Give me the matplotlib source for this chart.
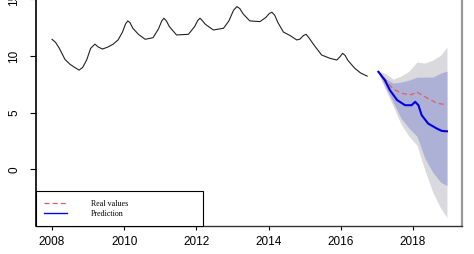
import matplotlib
matplotlib.use("Agg")
import matplotlib.pyplot as plt
from matplotlib.lines import Line2D

hist_years = [2008.0, 2008.1, 2008.2, 2008.36, 2008.5, 2008.65, 2008.75, 2008.85, 2008.96,
              2009.07, 2009.19, 2009.28, 2009.4, 2009.55, 2009.69, 2009.83, 2009.95, 2010.04,
              2010.1, 2010.16, 2010.24, 2010.4, 2010.58, 2010.8, 2010.95, 2011.04, 2011.1,
              2011.17, 2011.25, 2011.45, 2011.78, 2011.95, 2012.04, 2012.1, 2012.17, 2012.25,
              2012.47, 2012.75, 2012.9, 2013.03, 2013.12, 2013.2, 2013.3, 2013.48, 2013.76,
              2013.92, 2014.02, 2014.09, 2014.17, 2014.25, 2014.41, 2014.6, 2014.78, 2014.87,
              2014.96, 2015.04, 2015.12, 2015.25, 2015.47, 2015.7, 2015.89, 2015.98, 2016.05,
              2016.12, 2016.2, 2016.39, 2016.55, 2016.73]
hist_values = [11.48, 11.2, 10.7, 9.7, 9.27, 8.95, 8.76, 9.0, 9.65,
               10.68, 11.05, 10.8, 10.62, 10.8, 11.04, 11.42, 12.1, 12.85,
               13.1, 12.95, 12.45, 11.9, 11.48, 11.62, 12.4, 13.1, 13.34,
               13.1, 12.6, 11.86, 11.92, 12.6, 13.15, 13.34, 13.1, 12.8,
               12.3, 12.45, 13.1, 14.05, 14.36, 14.2, 13.7, 13.1, 13.04,
               13.4, 13.75, 13.87, 13.6, 13.0, 12.12, 11.8, 11.42, 11.5,
               11.8, 11.92, 11.6, 11.0, 10.09, 9.8, 9.65, 9.95, 10.24,
               10.05, 9.6, 8.91, 8.5, 8.23]

# forecast intervals
fc_years = [2017.03, 2017.22, 2017.45, 2017.67, 2017.89, 2018.11, 2018.33, 2018.55, 2018.77, 2018.94]
hi95 = [8.67, 8.50, 7.96, 8.23, 8.67, 9.47, 9.38, 9.65, 10.09, 10.80]
hi80 = [8.67, 8.05, 7.61, 7.70, 7.88, 8.14, 8.14, 8.14, 8.50, 8.67]
lo80 = [8.58, 7.35, 5.93, 4.51, 3.63, 2.92, 0.97, -0.27, -1.15, -1.42]
lo95 = [8.58, 7.17, 5.58, 3.98, 2.92, 2.12, -0.09, -2.04, -3.45, -4.25]

pred_years = [2017.04, 2017.22, 2017.36, 2017.56, 2017.78, 2017.96, 2018.06, 2018.15,
              2018.24, 2018.42, 2018.66, 2018.8, 2018.94]
pred_values = [8.61, 7.88, 6.99, 6.11, 5.66, 5.66, 5.96, 5.66, 4.78, 4.04, 3.60, 3.39, 3.36]

real_years = [2017.04, 2017.22, 2017.45, 2017.73, 2017.96, 2018.1, 2018.3, 2018.66, 2018.9]
real_values = [8.61, 7.96, 7.08, 6.68, 6.59, 6.84, 6.46, 5.84, 5.71]

plt.rcParams['font.family'] = ['Liberation Sans', 'DejaVu Sans']

fig = plt.figure(figsize=(4.74, 2.54), dpi=100)
ax = fig.add_axes([36 / 474, 28 / 254, 426 / 474, 230 / 254])

ax.fill_between(fc_years, lo95, hi95, color='#dadade', lw=0)
ax.fill_between(fc_years, lo80, hi80, color='#adb1d5', lw=0)
ax.plot(hist_years, hist_values, color='#222222', lw=0.8)
ax.plot(real_years, real_values, color='#e06060', lw=0.9, ls=(0, (4, 2.5)))
ax.plot(pred_years, pred_values, color='#0000e6', lw=1.5)

ax.set_xlim(2007.557, 2019.357)
ax.set_ylim(-5, 15.3)
ax.set_xticks([2008, 2010, 2012, 2014, 2016, 2018])
ax.set_yticks([0, 5, 10, 15])
ax.tick_params(axis='x', labelsize=8.5, length=3, width=0.8, pad=4.5)
ax.tick_params(axis='y', labelsize=8.5, length=4.3, width=0.8, pad=7, labelrotation=90)
for lbl in ax.get_yticklabels():
    lbl.set_va('center')

ax.spines['top'].set_visible(False)
ax.spines['left'].set_linewidth(1.2)
ax.spines['bottom'].set_linewidth(1.0)
ax.spines['bottom'].set_color('#333333')
ax.spines['right'].set_color('#999999')
ax.spines['right'].set_linewidth(1.6)

handles = [Line2D([], [], color='#e06060', lw=0.9, ls=(0, (4, 2.5))),
           Line2D([], [], color='#0000e6', lw=1.0)]
leg = ax.legend(handles, ['Real values', 'Prediction'], loc='lower left',
                bbox_to_anchor=(0, 0, 0.392, 0.148), mode='expand', borderaxespad=0,
                prop={'family': 'Liberation Serif', 'size': 5.8},
                handlelength=2.8, handletextpad=3.0, borderpad=1.0, labelspacing=0.3,
                fancybox=False, framealpha=1)
leg.get_frame().set_edgecolor('black')
leg.get_frame().set_linewidth(0.8)

fig.savefig('out.png', dpi=100)
